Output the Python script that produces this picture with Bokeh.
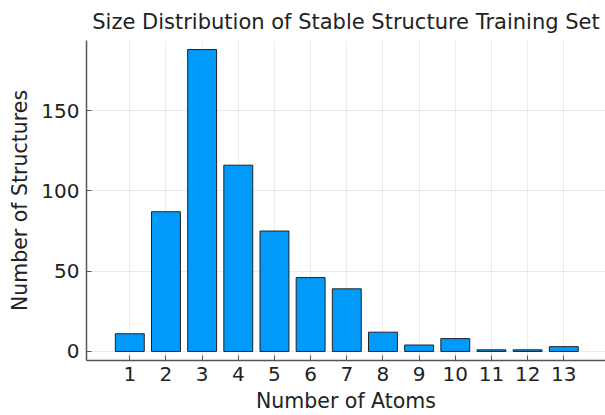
from bokeh.plotting import figure
from bokeh.models import FixedTicker, Range1d
from bokeh.embed import file_html
from bokeh.resources import INLINE

atoms = [1, 2, 3, 4, 5, 6, 7, 8, 9, 10, 11, 12, 13]
counts = [11, 87, 188, 116, 75, 46, 39, 12, 4, 8, 1, 1, 3]
y_ticks = [0, 50, 100, 150]

FONT = "DejaVu Sans"

p = figure(width=605, height=415, output_backend="svg", toolbar_location=None,
           x_range=Range1d(-0.197, 14.153), y_range=Range1d(-5.64, 193.64),
           min_border_left=86, min_border_right=0, min_border_top=40, min_border_bottom=54,
           title="Size Distribution of Stable Structure Training Set")

p.vbar(x=atoms, top=counts, bottom=0, width=0.8, fill_color="#009AFA",
       line_color="#222222", line_width=1)

p.title.text_font = FONT
p.title.text_font_size = "21px"
p.title.text_font_style = "normal"
p.title.text_color = "#222222"
p.title.align = "center"
p.title.standoff = 13

p.outline_line_color = None
p.background_fill_color = "white"

for ax in (p.xaxis[0], p.yaxis[0]):
    ax.axis_line_color = "#555555"
    ax.axis_line_width = 1.5
    ax.major_tick_in = 5
    ax.major_tick_out = 0
    ax.minor_tick_line_color = None
    ax.major_tick_line_color = "#555555"
    ax.major_label_text_font = FONT
    ax.major_label_text_font_size = "20px"
    ax.major_label_text_color = "#222222"
    ax.axis_label_text_font = FONT
    ax.axis_label_text_font_size = "20.5px"
    ax.axis_label_text_font_style = "normal"
    ax.axis_label_text_color = "#222222"

p.xaxis.ticker = FixedTicker(ticks=atoms)
p.yaxis.ticker = FixedTicker(ticks=y_ticks)
p.xaxis.axis_label = "Number of Atoms"
p.yaxis.axis_label = "Number of Structures"
p.xaxis.major_label_standoff = 6
p.yaxis.major_label_standoff = 7
p.xaxis.axis_label_standoff = 5
p.yaxis.axis_label_standoff = 6

p.xgrid.grid_line_color = "#000000"
p.xgrid.grid_line_alpha = 0.08
p.ygrid.grid_line_color = "#000000"
p.ygrid.grid_line_alpha = 0.08

open("out.html", "w").write(file_html(p, INLINE))
